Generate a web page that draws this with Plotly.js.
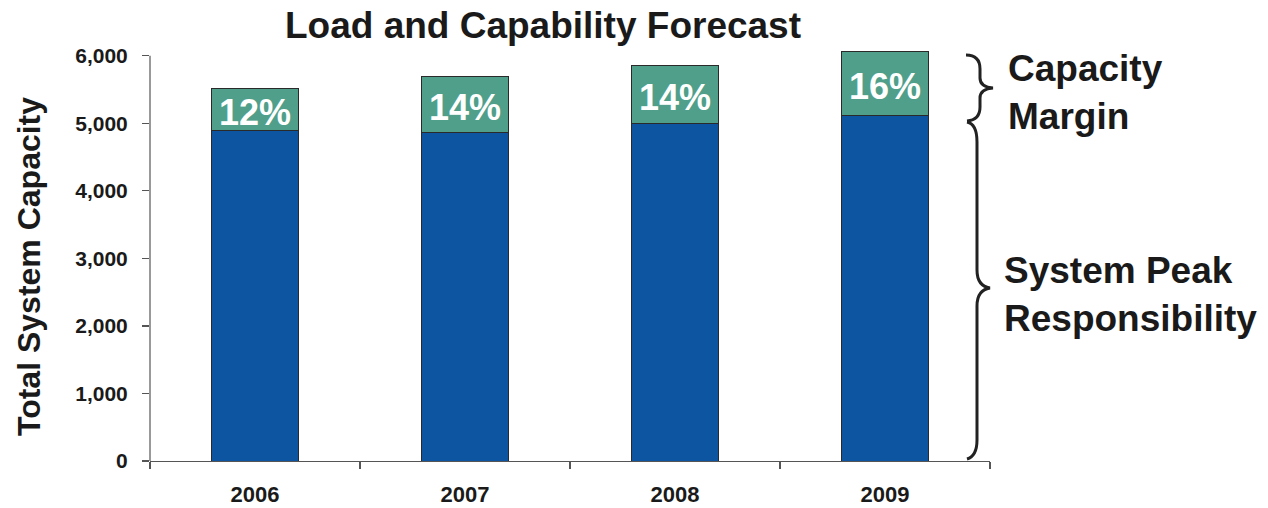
<!DOCTYPE html>
<html>
<head>
<meta charset="utf-8">
<script src="https://cdn.plot.ly/plotly-3.0.1.min.js"></script>
<style>html,body{margin:0;padding:0;background:#fff;}#chart{width:1268px;height:508px;}</style>
</head>
<body>
<div id="chart"></div>
<script>
// ---- data ----
const years = ['2006', '2007', '2008', '2009'];
const peakResponsibility = [4900, 4870, 5000, 5120];
const totalCapacity = [5520, 5700, 5860, 6060];
const marginLabels = ['12%', '14%', '14%', '16%'];
const yTickValues = [0, 1000, 2000, 3000, 4000, 5000, 6000];
const yTickLabels = ['0', '1,000', '2,000', '3,000', '4,000', '5,000', '6,000'];

// ---- layout geometry ----
const W = 1268, H = 508;
const MARG = {l: 150, r: 278, t: 49, b: 47};
const YMAX = 6100;
const FONT = 'Liberation Sans, Arial, Helvetica, sans-serif';

const capacityMargin = totalCapacity.map((t, i) => t - peakResponsibility[i]);

const traces = [
  {
    type: 'bar', x: years, y: peakResponsibility, name: 'System Peak Responsibility',
    marker: {color: '#0d54a1', line: {color: '#2a2a2a', width: 1}}, width: 0.41
  },
  {
    type: 'bar', x: years, y: capacityMargin, name: 'Capacity Margin',
    marker: {color: '#4f9f8a', line: {color: '#2a2a2a', width: 1}}, width: 0.41
  }
];

// pixel -> paper helpers for decorations
const pw = W - MARG.l - MARG.r, ph = H - MARG.t - MARG.b;
const toPX = v => (v - MARG.l) / pw;
const toPY = v => (H - MARG.b - v) / ph;
function brace(cmds) {
  return cmds.map(c => {
    const pts = [];
    for (let i = 1; i < c.length; i += 2) pts.push(toPX(c[i]).toFixed(5) + ',' + toPY(c[i + 1]).toFixed(5));
    return c[0] + ' ' + pts.join(' ');
  }).join(' ');
}

const upperBrace = brace([
  ['M', 966, 55], ['Q', 980, 55, 980, 69], ['L', 980, 78], ['Q', 980, 87, 993, 88],
  ['Q', 980, 89, 980, 98], ['L', 980, 107], ['Q', 980, 120, 967, 121]
]);
const lowerBrace = brace([
  ['M', 967, 122], ['Q', 977, 124, 977, 142], ['L', 977, 270], ['Q', 977, 286, 990, 288],
  ['Q', 977, 290, 977, 306], ['L', 977, 440], ['Q', 977, 456, 967, 459]
]);

// percentage labels: x given as category index (a string like '2006' would be read as an index)
const annotations = years.map((yr, i) => ({
  x: i, y: peakResponsibility[i] + capacityMargin[i] / 2, xref: 'x', yref: 'y',
  text: marginLabels[i], showarrow: false, yshift: -3,
  font: {family: FONT, size: 36, color: '#ffffff', weight: 'bold'}
}));

annotations.push(
  {xref: 'paper', yref: 'paper', x: toPX(1006), y: toPY(93), xanchor: 'left', yanchor: 'middle',
   text: 'Capacity<br>Margin', showarrow: false, align: 'left',
   font: {family: FONT, size: 37, color: '#1a1a1a', weight: 'bold'}},
  {xref: 'paper', yref: 'paper', x: toPX(1002), y: toPY(294), xanchor: 'left', yanchor: 'middle',
   text: 'System Peak<br>Responsibility', showarrow: false, align: 'left',
   font: {family: FONT, size: 37, color: '#1a1a1a', weight: 'bold'}},
  {xref: 'paper', yref: 'paper', x: toPX(29), y: toPY(267), xanchor: 'center', yanchor: 'middle',
   text: 'Total System Capacity', showarrow: false, textangle: -90,
   font: {family: FONT, size: 32, color: '#1a1a1a', weight: 'bold'}}
);

const layout = {
  width: W, height: H,
  margin: MARG,
  paper_bgcolor: '#ffffff', plot_bgcolor: '#ffffff',
  barmode: 'stack',
  showlegend: false,
  title: {
    text: 'Load and Capability Forecast',
    x: 543 / W, xref: 'container', xanchor: 'center',
    y: 1 - 25 / H, yref: 'container', yanchor: 'middle',
    font: {family: FONT, size: 37, color: '#1a1a1a', weight: 'bold'}
  },
  xaxis: {
    type: 'category', showgrid: false, zeroline: false,
    showline: true, linecolor: '#555555', linewidth: 1.2,
    ticks: 'outside', tickson: 'boundaries', ticklen: 7, tickcolor: '#555555', tickwidth: 1.2,
    ticklabelstandoff: 13,
    tickfont: {family: FONT, size: 22, color: '#1a1a1a', weight: 'bold'}
  },
  yaxis: {
    range: [0, YMAX], showgrid: false, zeroline: false, showline: false,
    tickvals: yTickValues, ticktext: yTickLabels,
    ticks: 'outside', ticklen: 7, tickcolor: '#555555', tickwidth: 1.2,
    ticklabelstandoff: 10,
    tickfont: {family: FONT, size: 21, color: '#1a1a1a', weight: 'bold'}
  },
  shapes: [
    {type: 'line', xref: 'paper', yref: 'y', x0: 0, x1: 0, y0: 0, y1: 6000,
     line: {color: '#555555', width: 1.2}},
    {type: 'path', xref: 'paper', yref: 'paper', path: upperBrace,
     line: {color: '#222222', width: 3}},
    {type: 'path', xref: 'paper', yref: 'paper', path: lowerBrace,
     line: {color: '#222222', width: 3}}
  ],
  annotations: annotations
};

Plotly.newPlot('chart', traces, layout, {displayModeBar: false, staticPlot: true});
</script>
</body>
</html>
